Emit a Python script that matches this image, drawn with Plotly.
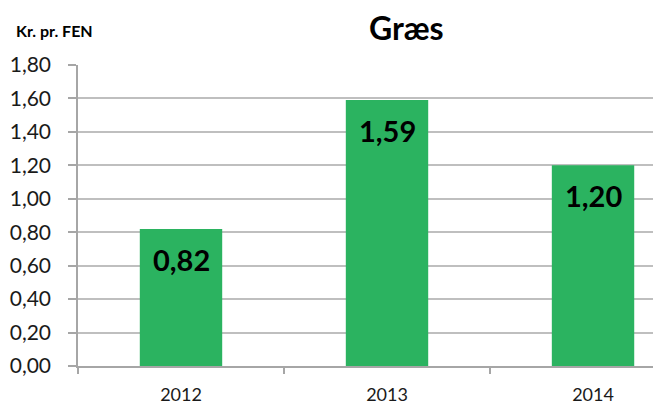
import plotly.graph_objects as go

categories = ["2012", "2013", "2014"]
values = [0.82, 1.59, 1.20]
y_ticks = [0.0, 0.2, 0.4, 0.6, 0.8, 1.0, 1.2, 1.4, 1.6, 1.8]
title_text = "Græs"
unit_text = "Kr. pr. FEN"

FONT = "Lato, 'Noto Sans', Arial, sans-serif"
GREEN = "#2BB360"
GRID = "#BFBFBF"
AXIS = "#A6A6A6"

# the page body has an 8px default margin, so the figure is drawn 8px in
OFF = 8
W, H = 661 - OFF, 405 - OFF
ML, MR, MT, MB = 78 - OFF, 0, 65 - OFF, 37


def px_to_paper(x, y):
    return (x - OFF - ML) / (W - ML - MR), 1 + (MT - (y - OFF)) / (H - MT - MB)


fig = go.Figure()
fig.add_trace(go.Bar(
    x=categories, y=values, marker=dict(color=GREEN, line=dict(width=0)),
    width=0.4, hoverinfo="skip",
))

for i, v in enumerate(values):
    fig.add_annotation(
        x=i, y=v, xref="x", yref="y", text=f"{v:.2f}".replace(".", ","),
        showarrow=False, yanchor="top", yshift=-11,
        font=dict(family=FONT, size=29, color="#000000", weight="bold"),
    )

tx, ty = px_to_paper(406, 27)
fig.add_annotation(
    x=tx, y=ty, xref="paper", yref="paper", text=title_text, showarrow=False,
    xanchor="center", yanchor="middle",
    font=dict(family=FONT, size=32, color="#000000", weight="bold"),
)
ux, uy = px_to_paper(14, 30)
fig.add_annotation(
    x=ux, y=uy, xref="paper", yref="paper", text=unit_text, showarrow=False,
    xanchor="left", yanchor="middle",
    font=dict(family=FONT, size=16, color="#000000", weight="bold"),
)

fig.update_layout(
    width=W, height=H,
    margin=dict(l=ML, r=MR, t=MT, b=MB, pad=0),
    paper_bgcolor="white", plot_bgcolor="white",
    showlegend=False,
    separators=",.",
    font=dict(family=FONT, color="#1a1a1a"),
)
fig.update_xaxes(
    type="category", range=[-0.5, 2.33], showgrid=False,
    showline=True, linecolor=AXIS, linewidth=1.5,
    ticks="outside", tickson="boundaries", ticklen=6, tickcolor=AXIS, tickwidth=1.5,
    tickfont=dict(family=FONT, size=18, color="#1a1a1a"), ticklabelstandoff=12,
    fixedrange=True,
)
fig.update_yaxes(
    range=[0, 1.8], tickvals=y_ticks, tickformat=".2f",
    showgrid=True, gridcolor=GRID, gridwidth=1.5, zeroline=False,
    showline=True, linecolor=AXIS, linewidth=1.5,
    ticks="outside", ticklen=8, tickcolor=AXIS, tickwidth=1.5,
    tickfont=dict(family=FONT, size=21, color="#1a1a1a"), ticklabelstandoff=13,
    fixedrange=True,
)

fig.write_html("out.html", config={"displayModeBar": False})
